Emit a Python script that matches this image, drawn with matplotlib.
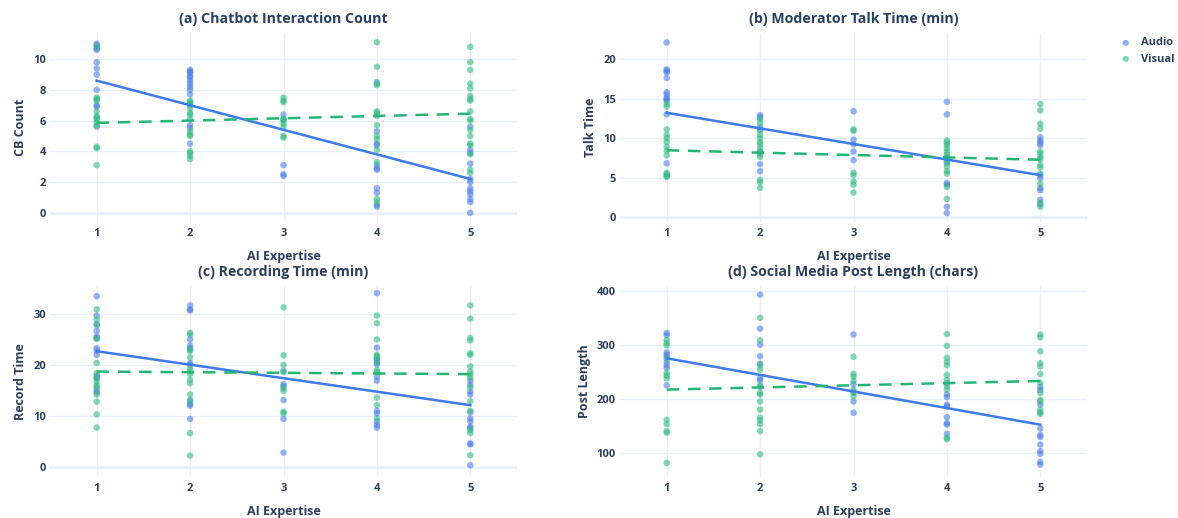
import matplotlib
matplotlib.use("Agg")
import matplotlib.pyplot as plt
import numpy as np

plt.rcParams['font.family'] = ['Open Sans', 'DejaVu Sans']

expertise_levels = [1, 2, 3, 4, 5]
series_names = ["Audio", "Visual"]

# (a) Chatbot Interaction Count
cb_audio = {
    1: [11.0, 10.9, 10.7, 10.6, 9.8, 9.4, 9.0, 8.0, 7.0, 6.9, 5.6],
    2: [9.3, 9.2, 9.1, 8.9, 8.8, 8.6, 8.4, 8.2, 8.0, 7.7, 7.1, 5.7, 5.5, 4.5],
    3: [6.4, 6.1, 3.1, 2.5, 2.4],
    4: [8.5, 5.3, 4.5, 4.4, 3.1, 2.9, 2.8, 1.6, 1.3, 0.5, 0.4],
    5: [5.6, 4.1, 3.9, 3.2, 2.2, 2.0, 1.6, 1.4, 1.2, 0.9, 0.7, 0.0],
}
cb_visual = {
    1: [10.8, 7.5, 7.4, 7.3, 6.6, 6.3, 6.2, 6.1, 5.9, 5.7, 4.3, 4.2, 3.1],
    2: [7.3, 7.2, 7.0, 6.8, 6.5, 6.4, 6.1, 5.3, 5.1, 5.0, 4.0, 3.9, 3.7, 3.5],
    3: [7.5, 7.3, 7.2, 6.1, 6.0, 5.8, 5.6, 5.0, 4.9],
    4: [11.1, 9.5, 8.4, 8.3, 6.6, 6.5, 6.3, 5.7, 5.0, 4.8, 4.1, 3.3, 0.9, 0.7],
    5: [10.8, 9.8, 9.3, 8.4, 8.1, 7.6, 7.4, 7.3, 6.6, 6.1, 6.0, 5.4, 5.0, 4.5, 4.4, 3.8, 2.8, 2.6],
}
cb_trend_audio = [8.6, 2.2]
cb_trend_visual = [5.85, 6.45]

# (b) Moderator Talk Time (min)
talk_audio = {
    1: [22.1, 18.7, 18.5, 18.3, 17.6, 15.8, 15.5, 15.1, 14.9, 14.7, 13.0, 6.8],
    2: [12.9, 12.6, 11.4, 11.0, 8.2, 6.7, 5.8],
    3: [13.4, 9.8, 9.2, 8.3, 7.2],
    4: [14.6, 13.0, 7.6, 6.8, 4.3, 4.1, 1.3, 0.5],
    5: [10.1, 9.7, 9.4, 9.1, 5.3, 4.9, 3.7, 3.4, 2.2, 1.6],
}
talk_visual = {
    1: [14.3, 14.0, 11.1, 10.4, 10.0, 9.5, 8.9, 8.4, 7.8, 5.6, 5.4, 5.2, 5.1],
    2: [12.4, 11.9, 11.1, 10.4, 10.0, 9.5, 9.2, 8.7, 8.3, 8.0, 7.6, 4.7, 4.4, 3.7],
    3: [11.1, 10.9, 5.6, 5.3, 4.5, 4.1, 3.1],
    4: [9.7, 9.4, 9.1, 8.7, 8.3, 7.9, 7.4, 7.0, 6.4, 5.8, 5.5, 3.8, 2.3],
    5: [14.3, 13.5, 11.8, 11.2, 8.3, 8.0, 7.6, 7.3, 6.6, 6.3, 5.5, 4.2, 1.8, 1.3],
}
talk_trend_audio = [13.2, 5.3]
talk_trend_visual = [8.45, 7.25]

# (c) Recording Time (min)
rec_audio = {
    1: [33.5, 29.7, 28.0, 26.7, 25.6, 25.3, 23.3, 22.8, 22.0, 17.9, 17.5, 15.1, 14.6],
    2: [31.7, 30.9, 30.7, 25.0, 23.8, 23.3, 20.4, 20.0, 13.1, 12.3, 12.0, 9.4],
    3: [18.8, 16.2, 15.8, 13.1, 9.4, 2.8],
    4: [34.1, 23.4, 21.2, 20.8, 20.1, 17.7, 16.9, 11.0, 10.5, 8.9, 8.2, 7.7],
    5: [16.9, 16.1, 14.8, 14.2, 10.7, 9.5, 8.9, 7.9, 7.6, 4.6, 4.4, 0.3],
}
rec_visual = {
    1: [30.9, 28.9, 27.8, 25.1, 20.4, 18.4, 17.3, 16.7, 16.0, 15.6, 14.2, 12.8, 10.3, 7.7],
    2: [26.3, 25.9, 23.0, 22.7, 21.5, 19.2, 18.7, 18.2, 17.1, 16.4, 14.2, 12.8, 6.6, 2.2],
    3: [31.3, 21.9, 20.0, 18.6, 15.4, 14.9, 10.8, 10.5],
    4: [29.7, 28.2, 25.0, 22.0, 21.7, 21.4, 20.4, 19.0, 18.6, 13.6, 12.1, 9.5],
    5: [31.7, 29.1, 25.3, 24.8, 22.3, 22.0, 19.7, 18.7, 18.1, 17.5, 15.6, 12.9, 11.0, 7.2, 6.6, 2.3],
}
rec_trend_audio = [22.7, 12.1]
rec_trend_visual = [18.7, 18.2]

# (d) Social Media Post Length (chars)
post_audio = {
    1: [322, 318, 286, 282, 278, 268, 262, 257, 225],
    2: [393, 330, 300, 279, 265, 238, 234, 222],
    3: [319, 227, 213, 195, 174],
    4: [229, 208, 203, 189, 186, 166, 155, 152, 135],
    5: [222, 216, 189, 145, 133, 129, 115, 103, 98, 83, 78],
}
post_visual = {
    1: [309, 303, 299, 274, 248, 243, 238, 161, 153, 140, 137, 81],
    2: [350, 308, 262, 254, 225, 211, 208, 195, 180, 165, 160, 153, 140, 97],
    3: [278, 246, 241, 233, 217, 211, 205],
    4: [320, 298, 276, 268, 262, 244, 235, 223, 217, 128, 125],
    5: [319, 314, 288, 266, 260, 246, 229, 211, 198, 195, 180, 175, 172],
}
post_trend_audio = [275, 152]
post_trend_visual = [217, 233]

panels = [
    ("(a) Chatbot Interaction Count", "CB Count", cb_audio, cb_visual,
     cb_trend_audio, cb_trend_visual, (-0.6, 11.7), [0, 2, 4, 6, 8, 10]),
    ("(b) Moderator Talk Time (min)", "Talk Time", talk_audio, talk_visual,
     talk_trend_audio, talk_trend_visual, (-0.63, 23.3), [0, 5, 10, 15, 20]),
    ("(c) Recording Time (min)", "Record Time", rec_audio, rec_visual,
     rec_trend_audio, rec_trend_visual, (-2.0, 35.5), [0, 10, 20, 30]),
    ("(d) Social Media Post Length (chars)", "Post Length", post_audio, post_visual,
     post_trend_audio, post_trend_visual, (55, 409), [100, 200, 300, 400]),
]

W, H = 1178, 518
fig = plt.figure(figsize=(W / 100, H / 100), dpi=100)
fig.patch.set_facecolor('white')

# axes boxes in pixels: left, right, top, bottom
boxes = [(50, 517, 33, 222), (620, 1087, 33, 222),
         (50, 517, 286, 477), (620, 1087, 286, 477)]

audio_pt = '#4A7FEF'
visual_pt = '#2DBE7E'
audio_line = '#3C7BEB'
visual_line = '#22B573'
text_col = '#2a3f5f'
grid_col = '#EBF0F8'

for (title, ylabel, aud, vis, ta, tv, ylim, yt), (l, r, t, b) in zip(panels, boxes):
    ax = fig.add_axes([l / W, 1 - b / H, (r - l) / W, (b - t) / H])
    ax.set_xlim(0.5, 5.5)
    ax.set_ylim(*ylim)
    for s in ax.spines.values():
        s.set_visible(False)
    ax.set_xticks(expertise_levels)
    ax.set_yticks(yt)
    ax.grid(True, color=grid_col, linewidth=1)
    ax.set_axisbelow(True)
    if ylim[0] < 0:
        ax.axhline(0, color=grid_col, linewidth=2, zorder=0)
    ax.tick_params(length=0, labelsize=8, labelcolor=text_col)
    ax.tick_params(axis='x', pad=4)
    ax.tick_params(axis='y', pad=3)
    for lab in ax.get_xticklabels() + ax.get_yticklabels():
        lab.set_fontweight('bold')
    for x in expertise_levels:
        ax.scatter([x] * len(aud[x]), aud[x], s=22, color=audio_pt, alpha=0.6,
                   edgecolors='none', zorder=2)
        ax.scatter([x] * len(vis[x]), vis[x], s=22, color=visual_pt, alpha=0.6,
                   edgecolors='none', zorder=2)
    ends = [expertise_levels[0], expertise_levels[-1]]
    ax.plot(ends, ta, color=audio_line, linewidth=1.8, zorder=3)
    ax.plot(ends, tv, color=visual_line, linewidth=1.8, linestyle=(0, (5, 3.5)), zorder=3)
    ax.set_title(title, fontsize=10.2, fontweight='bold', color=text_col, pad=7)
    ax.set_xlabel("AI Expertise", fontsize=9, fontweight='bold', color=text_col, labelpad=8)
    ax.set_ylabel(ylabel, fontsize=9, fontweight='bold', color=text_col, labelpad=4)

# legend
fig.text(1125 / W, 1 - 42 / H, "●", color=audio_pt, alpha=0.6, fontsize=6,
         ha='center', va='center', family='DejaVu Sans')
fig.text(1125 / W, 1 - 59 / H, "●", color=visual_pt, alpha=0.6, fontsize=6,
         ha='center', va='center', family='DejaVu Sans')
fig.text(1141 / W, 1 - 42 / H, series_names[0], color=text_col, fontsize=8,
         fontweight='bold', ha='left', va='center')
fig.text(1141 / W, 1 - 59 / H, series_names[1], color=text_col, fontsize=8,
         fontweight='bold', ha='left', va='center')

fig.savefig("out.png", dpi=100, facecolor='white')
